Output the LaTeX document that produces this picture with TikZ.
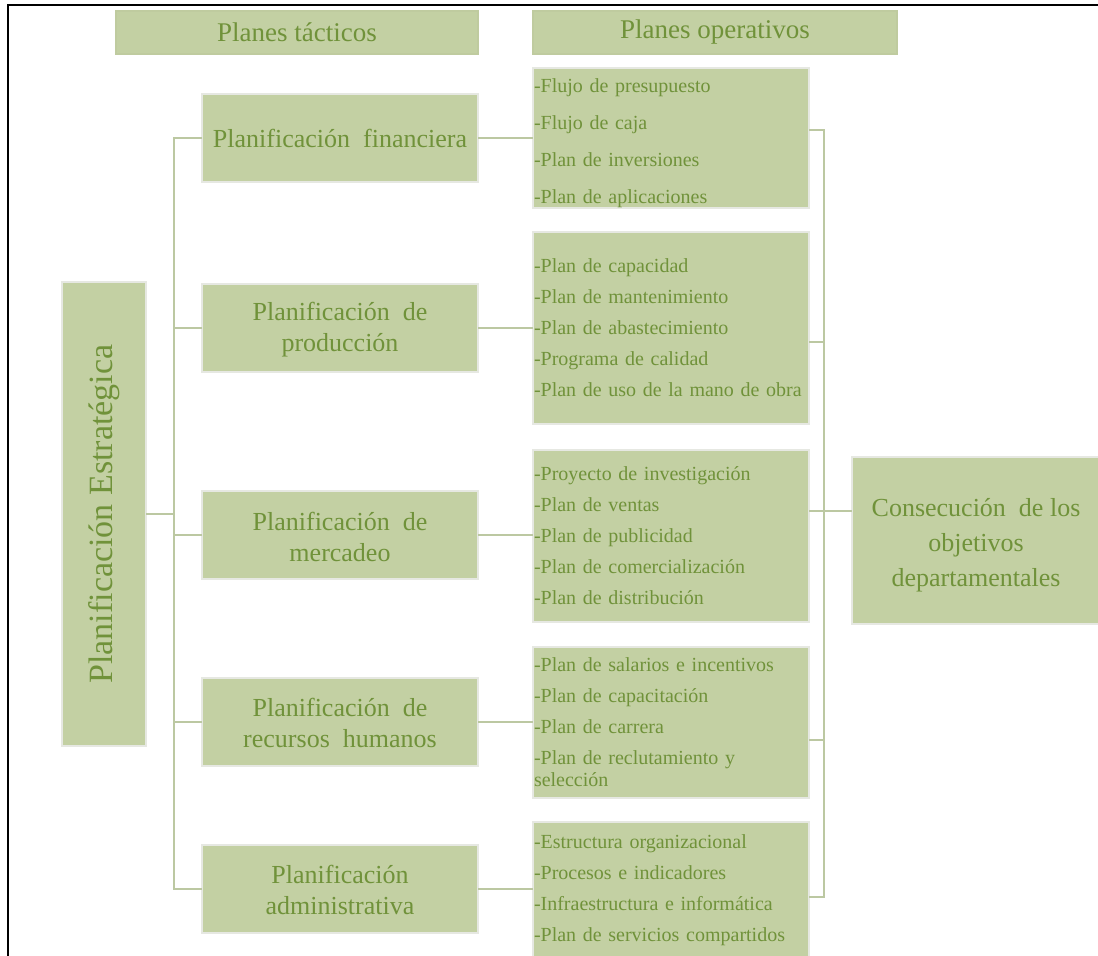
\documentclass[tikz,border=0pt]{standalone}
\usepackage{fontspec}
\setmainfont{Liberation Serif}
\definecolor{boxfill}{RGB}{195,208,163}
\definecolor{boxline}{RGB}{230,232,226}
\definecolor{txtgreen}{RGB}{112,146,58}
\definecolor{connline}{RGB}{188,200,162}
\tikzset{
  box/.style={draw=boxline, line width=1.2pt, fill=boxfill, text=txtgreen, inner sep=0pt, outer sep=0pt},
  hdrbox/.style={box, draw=boxfill!85!black!15!boxfill, minimum width=362pt, minimum height=43pt, font=\fontsize{27}{31}\selectfont},
  tacbox/.style={box, minimum width=276pt, minimum height=88pt, align=center, font=\fontsize{26}{30.5}\selectfont},
  opbox/.style={box, minimum width=276pt, text width=274pt, inner xsep=1pt, align=left, font=\fontsize{20}{31}\selectfont},
  conn/.style={draw=connline, line width=2pt}
}
\begin{document}
\begin{tikzpicture}[x=1pt,y=-1pt]
\useasboundingbox[fill=white] (0,0) rectangle (1098,956);
% frame
\draw[line width=2.5pt, black] (8,960) -- (8,5) -- (1100,5);

% headers
\node[hdrbox] (ht) at (297,32.5) {Planes tácticos};
\node[hdrbox, minimum width=364pt] (ho) at (715,32.5) {Planes operativos};

% strategic
\node[box, minimum width=84pt, minimum height=464pt] (strat) at (104,514) {};
\node[text=txtgreen, font=\fontsize{34}{38}\selectfont, rotate=90] (stratlbl) at (strat.center) {Planificación Estratégica};

% tactical
\node[tacbox] (fin) at (340,138) {Planificación\ \ financiera};
\node[tacbox] (prod) at (340,328) {\rule{0pt}{22pt}Planificación\ \ de\\producción};
\node[tacbox] (merc) at (340,535) {\rule{0pt}{22pt}Planificación\ \ de\\mercadeo};
\node[tacbox] (rh) at (340,722) {\rule{0pt}{20pt}Planificación\ \ de\\recursos\ \ humanos};
\node[tacbox] (adm) at (340,889) {\rule{0pt}{20pt}Planificación\\administrativa};

% operational
\node[opbox, minimum height=140pt, font=\fontsize{20}{37}\selectfont] (op1) at (671,138)
  {\rule{0pt}{24pt}-Flujo de presupuesto\\-Flujo de caja\\-Plan de inversiones\\-Plan de aplicaciones};
\node[opbox, minimum height=192pt] (op2) at (671,328)
  {-Plan de capacidad\\-Plan de mantenimiento\\-Plan de abastecimiento\\-Programa de calidad\\-Plan de uso de la mano de obra};
\node[opbox, minimum height=172pt] (op3) at (671,536)
  {-Proyecto de investigación\\-Plan de ventas\\-Plan de publicidad\\-Plan de comercialización\\-Plan de distribución};
\node[opbox, minimum height=151pt] (op4) at (671,722.5)
  {-Plan de salarios e incentivos\\-Plan de capacitación\\-Plan de carrera\\-Plan de reclutamiento y\\[-9pt]selección};
\node[opbox, minimum height=136pt] (op5) at (671,890)
  {-Estructura organizacional\\-Procesos e indicadores\\-Infraestructura e informática\\-Plan de servicios compartidos};

% result
\node[box, minimum width=248pt, minimum height=167pt, align=center, font=\fontsize{26}{35}\selectfont] (cons) at (976,540.5)
  {\rule{0pt}{28pt}Consecución\ \ de los\\objetivos\\departamentales};

% connector helpers
\coordinate (tL) at (174,0);
\coordinate (tR) at (824,0);
\coordinate (r1) at (0,130);
\coordinate (r2) at (0,342);
\coordinate (r3) at (0,511);
\coordinate (r4) at (0,740);
\coordinate (r5) at (0,897);

% left tree
\draw[conn] (strat.east) -- (strat.east -| tL);
\draw[conn] (fin.west) -- (fin.west -| tL) -- (adm.west -| tL) -- (adm.west);
\draw[conn] (prod.west) -- (prod.west -| tL);
\draw[conn] (merc.west) -- (merc.west -| tL);
\draw[conn] (rh.west) -- (rh.west -| tL);
% tactical to operational
\draw[conn] (fin.east) -- (fin.east -| op1.west);
\draw[conn] (prod.east) -- (prod.east -| op2.west);
\draw[conn] (merc.east) -- (merc.east -| op3.west);
\draw[conn] (rh.east) -- (rh.east -| op4.west);
\draw[conn] (adm.east) -- (adm.east -| op5.west);
% right tree
\draw[conn] (op1.east |- r1) -- (r1 -| tR) -- (r5 -| tR) -- (op5.east |- r5);
\draw[conn] (op2.east |- r2) -- (r2 -| tR);
\draw[conn] (op4.east |- r4) -- (r4 -| tR);
\draw[conn] (op3.east |- r3) -- (cons.west |- r3);
\end{tikzpicture}
\end{document}
